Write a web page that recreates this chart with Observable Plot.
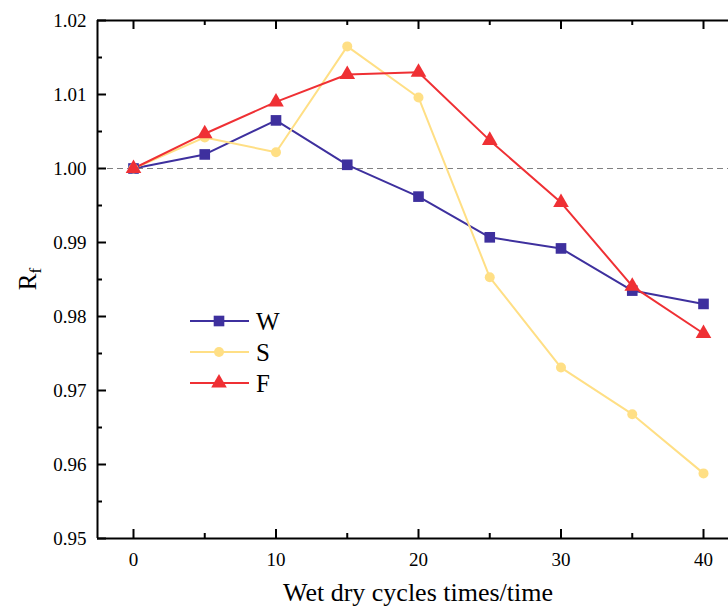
<!DOCTYPE html>
<html><head><meta charset="utf-8">
<script src="https://cdn.jsdelivr.net/npm/d3@7"></script>
<script src="https://cdn.jsdelivr.net/npm/@observablehq/plot@0.6"></script>
<style>body{margin:0;background:#fff} #chart svg{display:block} #chart svg text{font-family:'Liberation Serif','Times New Roman',serif}</style>
</head><body><div id="chart"></div>
<script>
// ---- data ----
const cycles = [0, 5, 10, 15, 20, 25, 30, 35, 40];
const W = [1.0000, 1.0019, 1.0065, 1.0005, 0.9962, 0.9907, 0.9892, 0.9835, 0.9817];
const S = [1.0000, 1.0042, 1.0022, 1.0165, 1.0096, 0.9853, 0.9731, 0.9668, 0.9588];
const F = [1.0000, 1.0047, 1.0090, 1.0127, 1.0130, 1.0038, 0.9954, 0.9841, 0.9777];
const seriesNames = ["W", "S", "F"];
const xMajor = [0, 10, 20, 30, 40];
const xMinor = [5, 15, 25, 35];
const yMajor = [0.95, 0.96, 0.97, 0.98, 0.99, 1.00, 1.01, 1.02];
const yMinor = [0.955, 0.965, 0.975, 0.985, 0.995, 1.005, 1.015];
const referenceLine = [1.00];
const xTitle = "Wet dry cycles times/time";

// ---- styles ----
const colors = {W: "#3E309E", S: "#FFDF85", F: "#EF3034"};
const symbols = {W: "square", S: "circle", F: "triangle"};
const radius = {W: 6, S: 5, F: 5.8};
const d3Symbols = {square: d3.symbolSquare, circle: d3.symbolCircle, triangle: d3.symbolTriangle};
const values = {W, S, F};
const rows = seriesNames.flatMap(name => cycles.map((c, i) => ({series: name, x: c, y: values[name][i]})));

const width = 728, height = 609;
const mL = 97, mR = 0, mT = 20, mB = 71;
const innerW = width - mL - mR, innerH = height - mT - mB;
const xDomain = [-2.526, 41.754];
const yDomain = [0.95, 1.02];
const font = "'Liberation Serif', 'Times New Roman', serif";

const marks = [
  Plot.ruleY(referenceLine, {stroke: "#808080", strokeWidth: 1, strokeDasharray: "6,4"}),
];
for (const name of seriesNames) {
  const d = rows.filter(r => r.series === name);
  marks.push(Plot.line(d, {x: "x", y: "y", stroke: colors[name], strokeWidth: 2, curve: "linear"}));
}
for (const name of seriesNames) {
  const d = rows.filter(r => r.series === name);
  marks.push(Plot.dot(d, {x: "x", y: "y", symbol: () => symbols[name], fill: colors[name], stroke: "none", r: radius[name]}));
}
marks.push(
  // ticks inward
  Plot.ruleX(xMajor, {stroke: "black", strokeWidth: 2, insetTop: innerH - 9}),
  Plot.ruleX(xMinor, {stroke: "black", strokeWidth: 2, insetTop: innerH - 5}),
  Plot.ruleX(xMajor, {stroke: "black", strokeWidth: 2, insetBottom: innerH - 9}),
  Plot.ruleX(xMinor, {stroke: "black", strokeWidth: 2, insetBottom: innerH - 5}),
  Plot.ruleY(yMajor, {stroke: "black", strokeWidth: 2, insetRight: innerW - 9}),
  Plot.ruleY(yMinor, {stroke: "black", strokeWidth: 2, insetRight: innerW - 5}),
  // frame (left, top, bottom)
  Plot.ruleY(yDomain, {stroke: "black", strokeWidth: 2}),
  Plot.ruleX([xDomain[0]], {stroke: "black", strokeWidth: 2}),
  Plot.axisX(xMajor, {tickSize: 0, tickPadding: 14, fontSize: 19, label: null}),
  Plot.axisY(yMajor, {tickSize: 0, tickPadding: 11, fontSize: 19, tickFormat: d3.format(".2f"), label: null})
);

const chart = Plot.plot({
  width, height,
  marginLeft: mL, marginRight: mR, marginTop: mT, marginBottom: mB,
  style: {fontFamily: font, fontSize: "19px", color: "black", background: "white", overflow: "visible"},
  x: {domain: xDomain},
  y: {domain: yDomain},
  marks
});
document.getElementById("chart").appendChild(chart);

const svg = d3.select(chart);
// x title
svg.append("text").attr("x", 418).attr("y", 601).attr("text-anchor", "middle")
  .attr("font-family", font).attr("font-size", 26).attr("fill", "black").text(xTitle);
// y title R_f
const yt = svg.append("text").attr("transform", "translate(36,279) rotate(-90)")
  .attr("text-anchor", "middle").attr("font-family", font).attr("font-size", 25).attr("fill", "black");
yt.append("tspan").text("R");
yt.append("tspan").attr("font-size", 17).attr("dy", "0.3em").text("f");

// legend
seriesNames.forEach((name, i) => {
  const y = 321 + 31 * i;
  const g = svg.append("g");
  g.append("line").attr("x1", 190).attr("x2", 249).attr("y1", y).attr("y2", y)
    .attr("stroke", colors[name]).attr("stroke-width", 2);
  g.append("path").attr("transform", `translate(219,${y})`)
    .attr("d", d3.symbol(d3Symbols[symbols[name]], Math.PI * radius[name] ** 2)())
    .attr("fill", colors[name]);
  g.append("text").attr("x", 256).attr("y", y).attr("dy", "0.35em").attr("text-anchor", "start")
    .attr("font-family", font).attr("font-size", 25).attr("fill", "black").text(name);
});
</script></body></html>
